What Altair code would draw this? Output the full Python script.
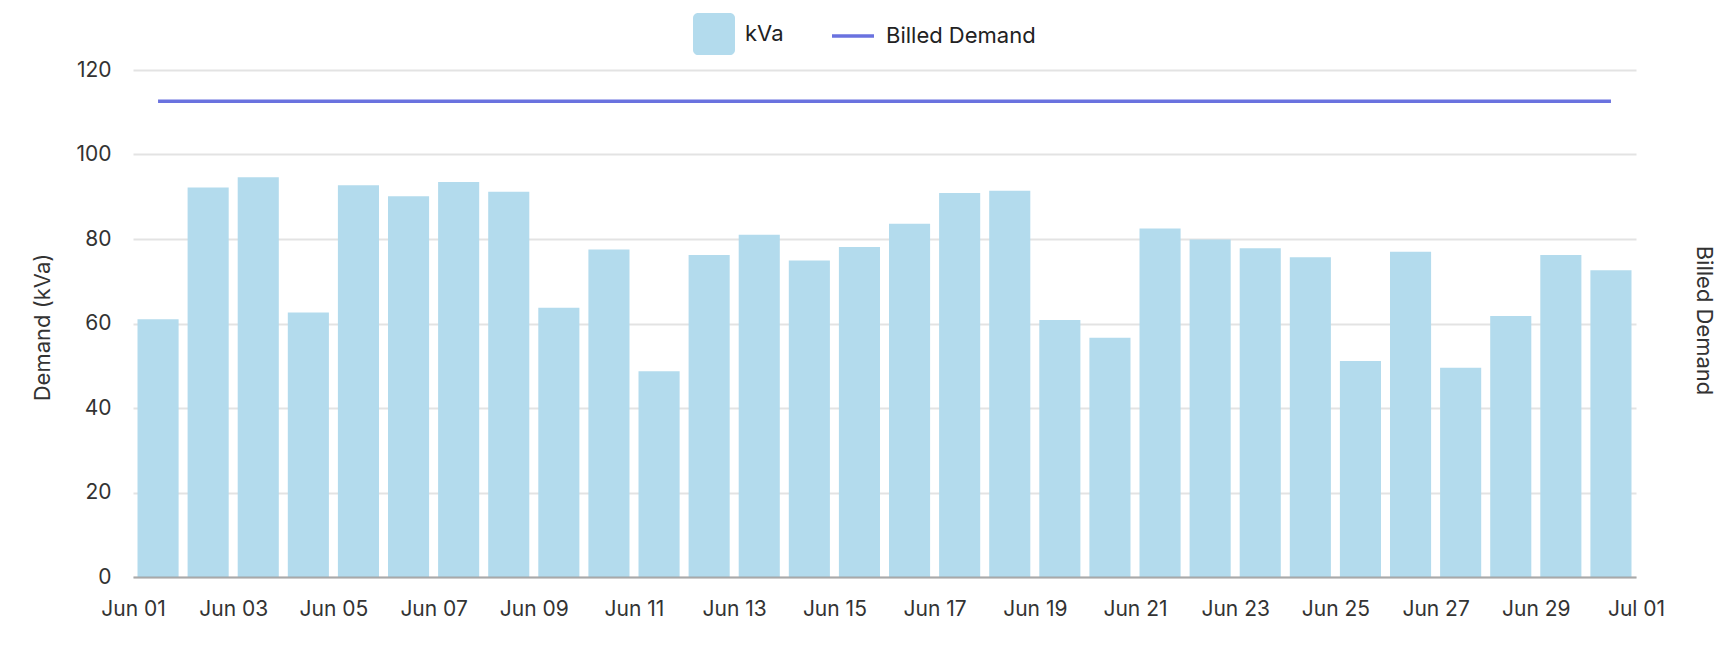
import altair as alt
import pandas as pd

# ---- data ----
days = list(range(1, 31))
kva = [61.0, 92.2, 94.6, 62.6, 92.7, 90.1, 93.5, 91.2, 63.7, 77.5,
       48.7, 76.2, 81.0, 74.9, 78.1, 83.6, 90.9, 91.4, 60.8, 56.6,
       82.5, 79.9, 77.8, 75.7, 51.1, 77.0, 49.5, 61.8, 76.2, 72.6]
billed = [112.6] * 30
tick_days = [(6, d) for d in range(1, 31, 2)] + [(7, 1)]

FONT = "Inter"
BAR = "#b3dbed"
LINE = "#6a72df"
LAB = 21
TIT = 22

start = pd.Timestamp("2024-06-01", tz="UTC")
rows = []
for d, v, b in zip(days, kva, billed):
    t0 = start + pd.Timedelta(days=d - 1)
    rows.append({
        "start": t0.strftime("%Y-%m-%dT%H:%M:%SZ"),
        "end": (t0 + pd.Timedelta(days=1)).strftime("%Y-%m-%dT%H:%M:%SZ"),
        "mid": (t0 + pd.Timedelta(hours=12)).strftime("%Y-%m-%dT%H:%M:%SZ"),
        "kva": v,
        "billed": b,
        "s1": "kVa",
        "s2": "Billed Demand",
    })
df = pd.DataFrame(rows)

xdomain = [alt.DateTime(year=2024, month=6, date=1, utc=True),
           alt.DateTime(year=2024, month=7, date=1, utc=True)]
xvalues = [alt.DateTime(year=2024, month=m, date=d, utc=True) for m, d in tick_days]

xscale = alt.Scale(type="utc", domain=xdomain)
xaxis = alt.Axis(values=xvalues, labelExpr="utcFormat(datum.value, '%b %d')", title=None,
                 grid=False, ticks=False, labelPadding=21, labelFontSize=LAB,
                 labelFont=FONT, labelColor="#333333", domainColor="#9a9a9a",
                 domainWidth=2, domainOpacity=0.8, zindex=1, labelFlush=False)

rounded = ("M-0.76,-1 H0.76 A0.24,0.24 0 0 1 1,-0.76 V0.76 "
           "A0.24,0.24 0 0 1 0.76,1 H-0.76 A0.24,0.24 0 0 1 -1,0.76 "
           "V-0.76 A0.24,0.24 0 0 1 -0.76,-1 Z")

yscale = alt.Scale(domain=[0, 120], nice=False)

bars = alt.Chart(df).mark_bar(xOffset=4.5, x2Offset=-4.5).encode(
    x=alt.X("start:T", scale=xscale, axis=xaxis),
    x2="end:T",
    y=alt.Y("kva:Q", scale=yscale,
            axis=alt.Axis(values=[0, 20, 40, 60, 80, 100, 120], title="Demand (kVa)",
                          ticks=False, domain=False, labelPadding=22, labelFontSize=LAB,
                          labelFont=FONT, labelColor="#333333", gridColor="#e3e3e3",
                          gridWidth=2, titleFont=FONT, titleFontSize=TIT,
                          titleFontWeight="normal", titleColor="#333333",
                          titleX=-91, titleY=257, titleAngle=-90,
                          titleAlign="center", titleBaseline="middle")),
    y2=alt.datum(0),
    color=alt.Color("s1:N", scale=alt.Scale(domain=["kVa"], range=[BAR]),
                    legend=alt.Legend(title=None, orient="none", legendX=560, legendY=-57,
                                      symbolType=rounded, symbolSize=1764,
                                      symbolStrokeWidth=0, symbolOpacity=1,
                                      labelFont=FONT, labelFontSize=TIT, labelColor="#222222",
                                      labelOffset=10, padding=0)),
)

line = alt.Chart(df).mark_line(strokeWidth=3.5).encode(
    x=alt.X("mid:T", scale=xscale, axis=xaxis),
    y=alt.Y("billed:Q", scale=yscale,
            axis=alt.Axis(orient="right", title="Billed Demand", labels=False, ticks=False,
                          domain=False, grid=False, titleFont=FONT, titleFontSize=TIT,
                          titleFontWeight="normal", titleColor="#333333",
                          titleX=67, titleY=250, titleAngle=90,
                          titleAlign="center", titleBaseline="middle")),
    stroke=alt.Stroke("s2:N", scale=alt.Scale(domain=["Billed Demand"], range=[LINE]),
                      legend=alt.Legend(title=None, orient="none", legendX=697, legendY=-57,
                                        symbolType="stroke", symbolSize=1764,
                                        symbolStrokeWidth=3.5, labelFont=FONT,
                                        labelFontSize=TIT, labelColor="#222222",
                                        labelOffset=10, padding=0)),
)

chart = alt.layer(bars, line).resolve_scale(y="independent").properties(
    width=1503, height=507,
    background="white",
    autosize=alt.AutoSizeParams(type="none"),
    padding={"left": 125, "top": 62, "right": 88, "bottom": 76},
).configure_view(stroke=None)

chart.save("out.html", embed_options={"renderer": "svg", "actions": False})
